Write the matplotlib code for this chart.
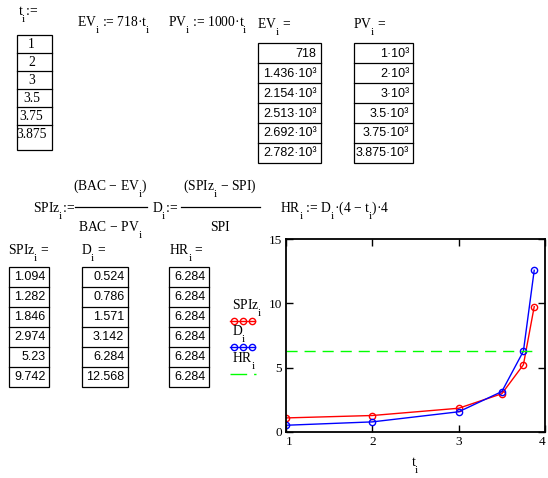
import matplotlib
matplotlib.use("Agg")
import matplotlib.pyplot as plt
import matplotlib._mathtext as mtext
from matplotlib.patches import Rectangle

# worksheet values
t = [1, 2, 3, 3.5, 3.75, 3.875]
ev = [718, 1436, 2154, 2513, 2692, 2782]
pv = [1000, 2000, 3000, 3500, 3750, 3875]
spiz = [1.094, 1.282, 1.846, 2.974, 5.23, 9.742]
d = [0.524, 0.786, 1.571, 3.142, 6.284, 12.568]
hr = [6.284, 6.284, 6.284, 6.284, 6.284, 6.284]

x_ticks = [1, 2, 3, 4]
y_ticks = [0, 5, 10, 15]

plt.rcParams["font.family"] = ["Liberation Serif", "DejaVu Serif"]
plt.rcParams["mathtext.fontset"] = "custom"
plt.rcParams["mathtext.rm"] = "Liberation Serif"
plt.rcParams["mathtext.it"] = "Liberation Serif"
plt.rcParams["mathtext.bf"] = "Liberation Serif"

# Mathcad writes its subscripts big and low
mtext.SHRINK_FACTOR = 0.8
mtext.FontConstantsBase.sub1 = 1.0

SERIF = 9.8
NUM = 9
SUB = r"$_\mathrm{i}$"


def mcad(v):
    """Mathcad-like number display."""
    if abs(v) < 1000:
        return f"{v:g}"
    m = f"{v / 1000:.3f}".rstrip("0").rstrip(".")
    return m + "·10³"


def table(ax, left, right, top, pitch, values, extra=0, fmt=mcad, align="right",
          family="Liberation Sans", size=NUM):
    n = len(values)
    bottom = top + pitch * n + extra
    ax.add_patch(Rectangle((left, top), right - left, bottom - top, fill=False,
                           lw=0.9, ec="black"))
    for k, v in enumerate(values):
        y0 = top + pitch * k
        if k > 0:
            ax.plot([left, right], [y0, y0], color="black", lw=0.9)
        if align == "right":
            ax.text(right - 4, y0 + pitch / 2 + 0.5, fmt(v), ha="right", va="center",
                    fontsize=size, family=family)
        else:
            ax.text((left + right) / 2 - 3, y0 + pitch / 2 + 0.5, fmt(v), ha="center",
                    va="center", fontsize=size, family=family)


fig = plt.figure(figsize=(5.48, 4.78), dpi=100)
bg = fig.add_axes([0, 0, 1, 1])
bg.set_xlim(0, 548)
bg.set_ylim(478, 0)
bg.axis("off")

# top row
bg.text(18, 15, "t" + SUB + ":=", fontsize=SERIF)
bg.text(77, 26, "EV" + SUB + " := 718·t" + SUB, fontsize=SERIF)
bg.text(168, 26, "PV" + SUB + " := 1000·t" + SUB, fontsize=SERIF)
bg.text(257, 28, "EV" + SUB + " =", fontsize=SERIF)
bg.text(353, 28, "PV" + SUB + " =", fontsize=SERIF)

table(bg, 17.3, 51.7, 35.3, 18, t, extra=7, align="center",
      family="Liberation Serif", size=9.8)
table(bg, 258, 320.7, 43, 20, ev)
table(bg, 354, 413.3, 43, 20, pv)

# formulas
bg.text(33, 212, "SPIz" + SUB + ":=", fontsize=SERIF)
bg.text(110.5, 190, "(BAC − EV" + SUB + ")", fontsize=SERIF, ha="center")
bg.plot([75, 147], [207, 207], color="black", lw=0.9)
bg.text(110.5, 231, "BAC − PV" + SUB, fontsize=SERIF, ha="center")

bg.text(152, 212, "D" + SUB + ":=", fontsize=SERIF)
bg.text(220, 190, "(SPIz" + SUB + " − SPI)", fontsize=SERIF, ha="center")
bg.plot([181, 260], [207, 207], color="black", lw=0.9)
bg.text(220, 231, "SPI", fontsize=SERIF, ha="center")

bg.text(280, 212, "HR" + SUB + " := D" + SUB + "·(4 − t" + SUB + ")·4", fontsize=SERIF)

# result tables
bg.text(8, 254, "SPIz" + SUB + " =", fontsize=SERIF)
bg.text(81, 254, "D" + SUB + " =", fontsize=SERIF)
bg.text(169, 254, "HR" + SUB + " =", fontsize=SERIF)
table(bg, 9.3, 49.3, 267, 20, spiz)
table(bg, 81.7, 128.3, 267, 20, d)
table(bg, 169.3, 209.3, 267, 20, hr)

# legend, Mathcad style (label above line)
bg.text(231.5, 309.5, "SPIz" + SUB, fontsize=SERIF)
bg.plot([230, 255], [321, 321], color="red", lw=1)
bg.plot([234, 243, 252], [321, 321, 321], ls="none", marker="o", ms=4.5,
        mfc="none", mec="red", mew=1)
bg.text(231.5, 335.5, "D" + SUB, fontsize=SERIF)
bg.plot([230, 255], [347, 347], color="blue", lw=1)
bg.plot([234, 243, 252], [347, 347, 347], ls="none", marker="o", ms=4.5,
        mfc="none", mec="blue", mew=1)
bg.text(231.5, 362, "HR" + SUB, fontsize=SERIF)
bg.plot([230, 256], [374, 374], color="#00ff00", lw=1, ls=(0, (12, 5)))

# graph
ax = fig.add_axes([286 / 548, 1 - 432 / 478, (545 - 286) / 548, (432 - 239) / 478])
ax.plot(t, spiz, color="red", lw=1, marker="o", ms=4.5, mfc="none", mec="red", mew=1)
ax.plot(t, d, color="blue", lw=1, marker="o", ms=4.5, mfc="none", mec="blue", mew=1)
ax.plot(t, hr, color="#00ff00", lw=1, ls=(0, (8, 5)))
ax.set_xlim(1, 4)
ax.set_ylim(0, 15)
ax.set_xticks(x_ticks)
ax.set_yticks(y_ticks)
ax.tick_params(direction="in", top=True, right=True, length=5, width=1,
               labelsize=9.5, pad=3)
for s in ax.spines.values():
    s.set_linewidth(1.3)
lbls = ax.get_xticklabels()
lbls[0].set_ha("left")
lbls[-1].set_ha("right")
ax.set_xlabel("t" + SUB, fontsize=SERIF, labelpad=5)

fig.savefig("out.png", dpi=100)
